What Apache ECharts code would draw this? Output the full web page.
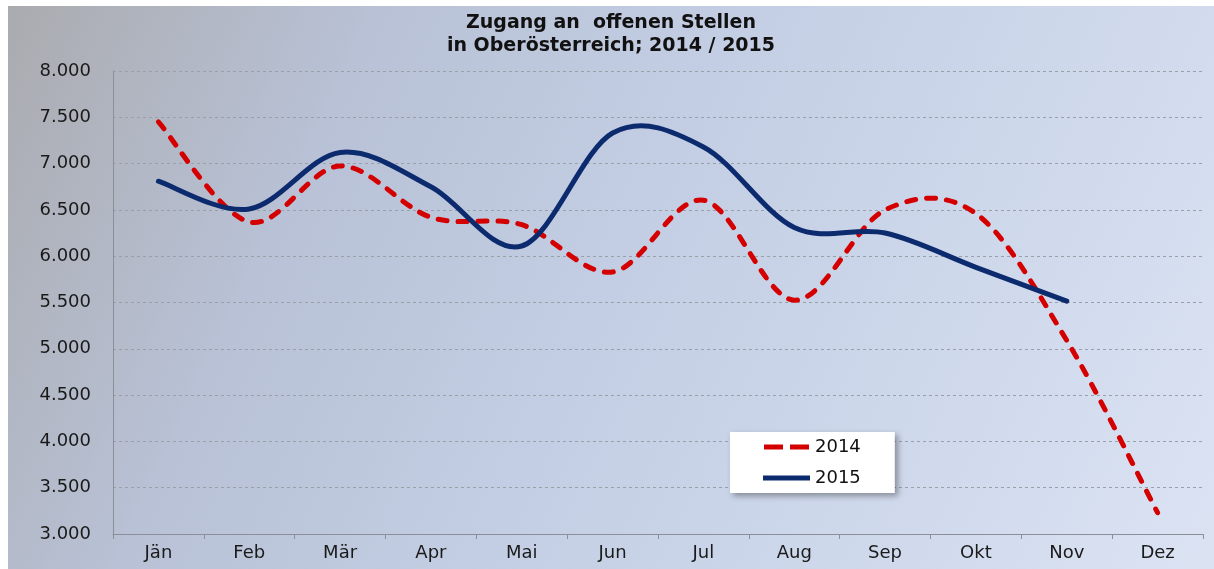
<!DOCTYPE html>
<html>
<head>
<meta charset="utf-8">
<script src="https://cdn.jsdelivr.net/npm/echarts@6/dist/echarts.min.js"></script>
<style>
  html, body { margin: 0; padding: 0; background: #fff; }
  #main { position: absolute; left: 8px; top: 6px; width: 1206px; height: 563px; }
</style>
</head>
<body>
<div id="main"></div>
<script>
// Monate und Werte
const months = ['Jän', 'Feb', 'Mär', 'Apr', 'Mai', 'Jun', 'Jul', 'Aug', 'Sep', 'Okt', 'Nov', 'Dez']
const values2014 = [7450, 6370, 6975, 6420, 6340, 5830, 6605, 5525, 6500, 6460, 5090, 3230]
const values2015 = [6810, 6510, 7120, 6750, 6110, 7330, 7180, 6310, 6250, 5880, 5515, null]
const yTicks = [3000, 8000, 500] // min, max, interval

const FONT = '"DejaVu Sans", sans-serif'
const RED = '#d40000'
const BLUE = '#0c2a6e'

const fmt = v => {
    const s = String(v)
    return s.length > 3 ? s.slice(0, s.length - 3) + '.' + s.slice(-3) : s
}

// Excel-artige Glättung (Catmull-Rom als Bezier), darf über die Punkte hinausschwingen
const smoothPath = pts => {
    let d = 'M' + pts[0][0] + ',' + pts[0][1]
    for (let i = 0; i < pts.length - 1; i++) {
        const p0 = pts[i - 1] || pts[i]
        const p1 = pts[i]
        const p2 = pts[i + 1]
        const p3 = pts[i + 2] || pts[i + 1]
        const c1x = p1[0] + (p2[0] - p0[0]) / 6
        const c1y = p1[1] + (p2[1] - p0[1]) / 6
        const c2x = p2[0] - (p3[0] - p1[0]) / 6
        const c2y = p2[1] - (p3[1] - p1[1]) / 6
        d += ' C' + c1x + ',' + c1y + ' ' + c2x + ',' + c2y + ' ' + p2[0] + ',' + p2[1]
    }
    return d
}

const curveSeries = (name, values, lineStyle) => ({
    name: name + ' ',
    type: 'custom',
    data: values.map((v, i) => [i, v]).filter(p => p[1] != null),
    encode: { x: 0, y: 1 },
    renderItem(params, api) {
        if (params.dataIndex !== 0) return
        const pts = values.filter(v => v != null).map((v, i) => api.coord([i, v]))
        return {
            type: 'path',
            shape: { pathData: smoothPath(pts) },
            style: Object.assign({ fill: 'none' }, lineStyle)
        }
    }
})

const chart = echarts.init(document.getElementById('main'))

chart.setOption({
    backgroundColor: {
        type: 'linear', x: 0, y: 0, x2: 1, y2: 1,
        colorStops: [
            { offset: 0, color: '#aaabaf' },
            { offset: 0.25, color: '#b8c1d5' },
            { offset: 0.5, color: '#c3cee4' },
            { offset: 1, color: '#dbe3f3' }
        ]
    },
    animation: false,
    title: {
        text: 'Zugang an  offenen Stellen\nin Oberösterreich; 2014 / 2015',
        left: 'center',
        top: 1,
        textStyle: { fontFamily: FONT, fontSize: 19, fontWeight: 'bold', color: '#111', lineHeight: 23 }
    },
    legend: {
        orient: 'vertical',
        left: 722,
        top: 426,
        backgroundColor: '#fff',
        shadowBlur: 6,
        shadowColor: 'rgba(0,0,0,0.35)',
        shadowOffsetX: 3,
        shadowOffsetY: 3,
        padding: [6, 34, 6, 33],
        itemWidth: 47,
        itemHeight: 5,
        itemGap: 13,
        itemTextGap: 1,
        textStyle: { fontFamily: FONT, fontSize: 18, color: '#111', lineHeight: 18 },
        data: [
            { name: '2014', icon: 'path://M0,0H19V5H0Z M26,0H45V5H26Z' },
            { name: '2015', icon: 'path://M0,0H47V5H0Z' }
        ]
    },
    grid: { left: 105, right: 11, top: 65, bottom: 35 },
    xAxis: {
        type: 'category',
        data: months,
        boundaryGap: true,
        axisLine: { lineStyle: { color: '#8a8f99', width: 1 } },
        axisTick: { show: true, length: 5, lineStyle: { color: '#8a8f99' } },
        axisLabel: { fontFamily: FONT, fontSize: 18, color: '#1a1a1a', margin: 10 }
    },
    yAxis: {
        type: 'value',
        min: yTicks[0],
        max: yTicks[1],
        interval: yTicks[2],
        axisLine: { show: true, lineStyle: { color: '#8a8f99', width: 1 } },
        axisTick: { show: false },
        axisLabel: { fontFamily: FONT, fontSize: 18, color: '#1a1a1a', margin: 22, formatter: fmt },
        splitLine: { lineStyle: { color: '#9aa0aa', type: [3, 3], width: 1 } }
    },
    series: [
        // nur für die Legende
        { name: '2014', type: 'line', data: [], symbol: 'none', itemStyle: { color: RED } },
        { name: '2015', type: 'line', data: [], symbol: 'none', itemStyle: { color: BLUE } },
        curveSeries('2014', values2014, { stroke: RED, lineWidth: 5, lineDash: [9, 11], lineCap: 'round' }),
        curveSeries('2015', values2015, { stroke: BLUE, lineWidth: 5, lineCap: 'round', lineJoin: 'round' })
    ]
})
</script>
</body>
</html>
